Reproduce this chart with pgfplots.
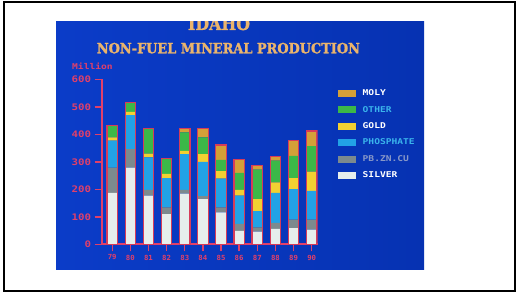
\documentclass[border=0pt]{standalone}
\usepackage{fontspec}
\usepackage{graphicx}
\usepackage{pgfplots}
\pgfplotsset{compat=1.18}
\setmainfont{DejaVu Sans}
\newfontfamily\pix{DejaVu Sans Mono}[FakeStretch=1.2]
\newfontfamily\pixs{DejaVu Sans Mono}[FakeStretch=1.05]
\newfontfamily\slab{DejaVu Serif}[BoldFeatures={FakeBold=1.5}]
\definecolor{bgL}{HTML}{0B3CC8}
\definecolor{bgR}{HTML}{0632B2}
\definecolor{silver}{HTML}{E6EEEC}
\definecolor{pbzn}{HTML}{7C8A8E}
\definecolor{phos}{HTML}{22A2E6}
\definecolor{gold}{HTML}{F2D032}
\definecolor{other}{HTML}{3CB848}
\definecolor{moly}{HTML}{D4A038}
\definecolor{barred}{HTML}{D63C5A}
\definecolor{axred}{HTML}{E0406A}
\definecolor{titlec}{HTML}{EAB46C}
\definecolor{cyantxt}{HTML}{3AB4EC}
\definecolor{graytxt}{HTML}{8898C8}
\begin{document}
\begin{tikzpicture}[x=1pt,y=1pt]
\useasboundingbox (0,0) rectangle (517,292);
\fill[white] (0,0) rectangle (517,292);
\draw[black, line width=2pt] (3.7,1) rectangle (514.7,289.7);
\shade[left color=bgL, right color=bgR] (56,22) rectangle (424,270);
\begin{scope}
\clip (56,22) rectangle (424,270);
\node[anchor=base, inner sep=0pt, text=titlec] at (219,262) {\resizebox{62pt}{13pt}{\slab\bfseries IDAHO}};
\end{scope}
\node[anchor=base west, inner sep=0pt, text=titlec] at (96.7,238.7) {\resizebox{263pt}{10.5pt}{\slab\bfseries NON-FUEL MINERAL PRODUCTION}};
\node[anchor=base west, inner sep=0pt, text=axred] at (72,222) {\pix\bfseries\fontsize{8}{8}\selectfont Million};

\begin{axis}[
  at={(101.7pt,47.7pt)}, anchor=south west,
  scale only axis, width=215.8pt, height=165pt,
  xmin=-0.58, xmax=11.32, ymin=0, ymax=600,
  enlargelimits=false,
  /pgf/number format/assume math mode=true,
  axis lines*=left,
  axis line style={draw=axred, line width=1.6pt, -},
  xtick pos=left, ytick pos=left,
  tick align=outside, major tick length=7pt,
  major tick style={draw=axred, line width=1.4pt},
  ybar stacked, bar width=10.5pt,
  xtick={0,1,2,3,4,5,6,7,8,9,10,11},
  xticklabels={79,80,81,82,83,84,85,86,87,88,89,90},
  ytick={0,100,200,300,400,500,600},
  ticklabel style={text=axred},
  yticklabel style={font=\pix\bfseries\fontsize{9}{9}\selectfont},
  xticklabel style={font=\pixs\bfseries\fontsize{7}{7}\selectfont},
  legend style={at={(1.095,0.937)}, anchor=north west, draw=none, fill=none,
    inner sep=0pt, outer sep=0pt, row sep=9pt, column sep=6.7pt,
    font=\pix\bfseries\fontsize{8}{8}\selectfont, text=white,
    nodes={inner sep=0pt}},
  legend cell align=left,
  reverse legend,
  legend image code/.code={\path[#1, draw=none] (0pt,-3.6pt) rectangle (18pt,3.6pt);},
]
\addplot[fill=silver, draw=none] coordinates {(0,187) (1,279) (2,177) (3,110) (4,184) (5,164) (6,116) (7,49) (8,46) (9,56) (10,59) (11,53)};
\addlegendentry{\textcolor{white}{SILVER}}
\addplot[fill=pbzn, draw=none] coordinates {(0,92) (1,67) (2,21) (3,24) (4,14) (5,11) (6,18) (7,25) (8,16) (9,22) (10,31) (11,37)};
\addlegendentry{\textcolor{graytxt}{PB.ZN.CU}}
\addplot[fill=phos, draw=none] coordinates {(0,98) (1,124) (2,118) (3,107) (4,130) (5,125) (6,105) (7,103) (8,59) (9,109) (10,111) (11,104)};
\addlegendentry{\textcolor{cyantxt}{PHOSPHATE}}
\addplot[fill=gold, draw=none] coordinates {(0,12) (1,12) (2,14) (3,15) (4,12) (5,28) (6,27) (7,21) (8,43) (9,38) (10,40) (11,70)};
\addlegendentry{\textcolor{white}{GOLD}}
\addplot[fill=other, draw=none] coordinates {(0,43) (1,33) (2,92) (3,56) (4,67) (5,61) (6,41) (7,62) (8,108) (9,79) (10,81) (11,93)};
\addlegendentry{\textcolor{cyantxt}{OTHER}}
\addplot[fill=moly, draw=none] coordinates {(0,0) (1,0) (2,0) (3,0) (4,13) (5,31) (6,54) (7,47) (8,16) (9,16) (10,56) (11,55)};
\addlegendentry{\textcolor{white}{MOLY}}
\end{axis}

\begin{axis}[
  at={(101.7pt,47.7pt)}, anchor=south west,
  scale only axis, width=215.8pt, height=165pt,
  xmin=-0.58, xmax=11.32, ymin=0, ymax=600,
  enlargelimits=false, hide axis,
  ybar, bar width=10.5pt,
]
\addplot[draw=barred, fill=none, line width=1.2pt] coordinates {(0,432) (1,515) (2,422) (3,312) (4,420) (5,420) (6,361) (7,307) (8,288) (9,320) (10,378) (11,412)};
\end{axis}
\end{tikzpicture}
\end{document}
